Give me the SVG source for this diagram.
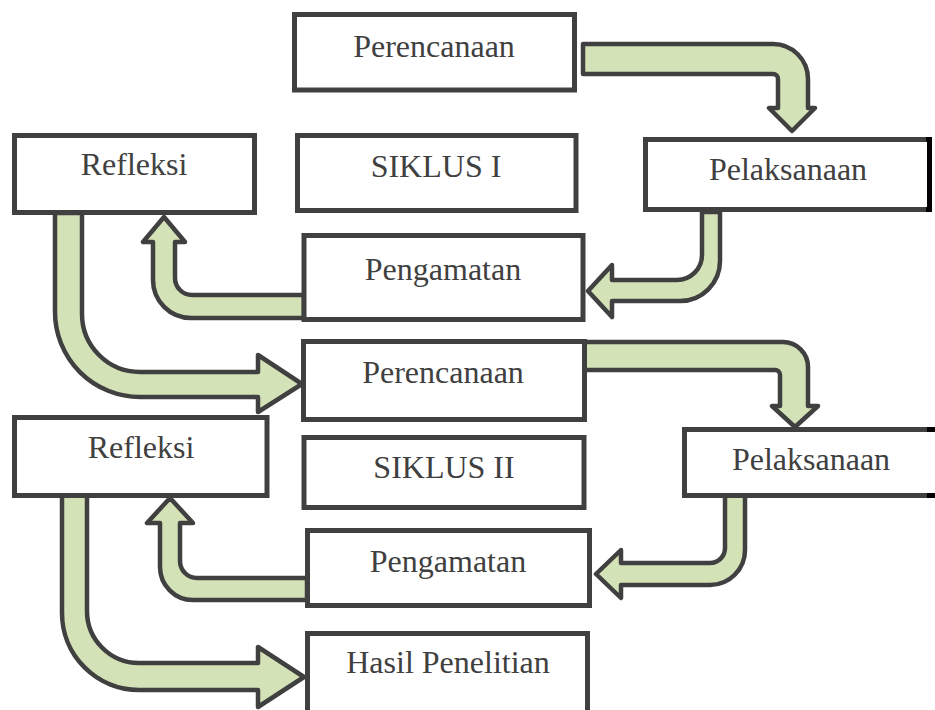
<svg xmlns="http://www.w3.org/2000/svg" width="935" height="710" viewBox="0 0 935 710">
<style>
.box{fill:#ffffff;stroke:#404040;stroke-width:5}
.arr{fill:#d4e2b8;stroke:#404040;stroke-width:4.5;stroke-linejoin:round}
.lbl{font-family:"Liberation Serif","Times New Roman",serif;font-size:32px;fill:#404040;text-anchor:middle}
.blk{fill:none;stroke:#000000;stroke-width:5}
</style>
<rect width="935" height="710" fill="#ffffff"/>
<g id="connectors">
<path class="arr" d="M583,44 H773 A35 35 0 0 1 808,79 V108 H815 L792,131 L769,108 H778 V79 A5 5 0 0 0 773,74 H583 Z"/>
<path class="arr" d="M702,212 V255 A25 25 0 0 1 677,280 H612 V265 L588,291 L612,317 V301 H680 A40 40 0 0 0 720,261 V212 Z"/>
<path class="arr" d="M304,295 H192 A17 17 0 0 1 175,278 V242 H185 L164,217 L143,242 H153 V280 A38 38 0 0 0 191,318 H304 Z"/>
<path class="arr" d="M55,213 V312 A85 85 0 0 0 140,397 H258 V412 L302,384 L258,355 V372 H140 A58 58 0 0 1 82,314 V213 Z"/>
<path class="arr" d="M584,342 H783 A25 25 0 0 1 808,367 V406 H818 L795,427 L772,406 H780 V375 A5 5 0 0 0 775,370 H584 Z"/>
<path class="arr" d="M725,495 V548 A15 15 0 0 1 710,563 H621 V550 L596,574 L621,598 V585 H710 A35 35 0 0 0 745,550 V495 Z"/>
<path class="arr" d="M307,578 H197 A17 17 0 0 1 180,561 V523 H193 L170,498 L147,523 H160 V567 A33 33 0 0 0 193,600 H307 Z"/>
<path class="arr" d="M62,495 V613 A77 77 0 0 0 139,690 H258 V707 L304,677 L258,647 V663 H139 A52 52 0 0 1 87,611 V495 Z"/>
</g>
<g id="perencanaan1"><rect class="box" x="294.5" y="14.5" width="280" height="75.5"/><text class="lbl" x="434" y="57">Perencanaan</text></g>
<g id="siklus1"><rect class="box" x="297.5" y="135.5" width="278.5" height="75"/><text class="lbl" x="436" y="177">SIKLUS I</text></g>
<g id="refleksi1"><rect class="box" x="14.5" y="135.5" width="240" height="77"/><text class="lbl" x="134" y="175">Refleksi</text></g>
<g id="pelaksanaan1"><rect class="box" x="645.5" y="139.5" width="284" height="70"/><path class="blk" d="M926,139.5 H929.5 V209.5 H926"/><text class="lbl" x="788" y="180">Pelaksanaan</text></g>
<g id="pengamatan1"><rect class="box" x="304" y="235.5" width="279" height="84"/><text class="lbl" x="443" y="280">Pengamatan</text></g>
<g id="perencanaan2"><rect class="box" x="303.5" y="341.5" width="281" height="78"/><text class="lbl" x="443" y="383">Perencanaan</text></g>
<g id="refleksi2"><rect class="box" x="14.5" y="417.5" width="252.5" height="78"/><text class="lbl" x="141" y="458">Refleksi</text></g>
<g id="siklus2"><rect class="box" x="304" y="437.5" width="280" height="70"/><text class="lbl" x="444" y="478">SIKLUS II</text></g>
<g id="pelaksanaan2"><rect class="box" x="684.5" y="429.5" width="260" height="66"/><path class="blk" d="M927,429.5 H940 M927,495.5 H940"/><text class="lbl" x="811" y="470">Pelaksanaan</text></g>
<g id="pengamatan2"><rect class="box" x="307.5" y="530.5" width="282" height="75"/><text class="lbl" x="448" y="572">Pengamatan</text></g>
<g id="hasil"><rect class="box" x="307.5" y="633.5" width="280" height="90"/><text class="lbl" x="448" y="673">Hasil Penelitian</text></g>
</svg>
